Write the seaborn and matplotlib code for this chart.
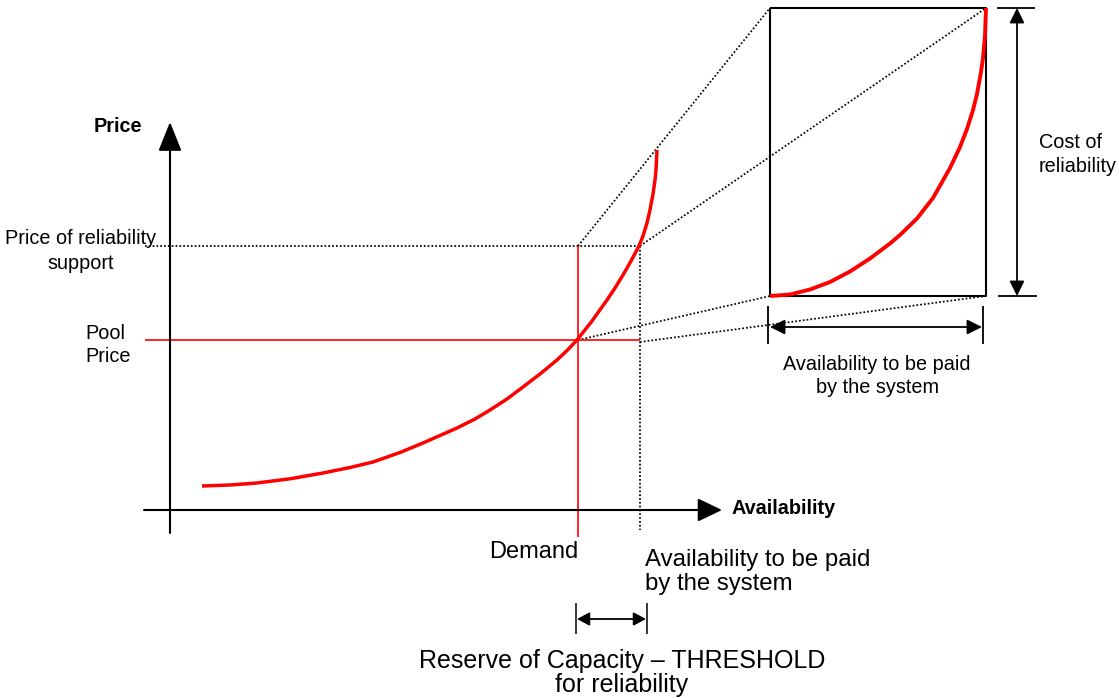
import numpy as np
import pandas as pd
import matplotlib
matplotlib.use("Agg")
import matplotlib.pyplot as plt
import seaborn as sns

# ---------------- data (diagram coordinates, y grows downward) ----------------
supply_x = [202, 230, 257, 290, 323, 350, 373, 400, 423, 440, 457, 475, 490, 507,
            523, 540, 557, 567, 577, 592, 607, 615, 623, 631, 639, 643, 647, 650,
            653, 655, 656, 657]
supply_y = [486, 485, 483, 478.8, 473, 467.5, 462, 452.5, 443, 435.5, 428, 419, 410,
            399, 387, 374, 360, 350.5, 340, 321, 300, 288, 275, 261, 246, 236, 223,
            210, 194, 180, 170, 150]

zoom_x = [770, 790, 810, 830, 850, 870, 890, 900, 917, 933, 950, 960, 967, 973,
          977, 981, 983, 985, 986]
zoom_y = [296, 294.5, 289.5, 282, 271.5, 258.5, 243.5, 235, 218.5, 198, 168, 147,
          129, 110, 94, 72, 58, 36, 8]

demand_x = 578
threshold_x = 640
pool_price = 340
reliability_price = 246

box_left, box_right, box_top, box_bottom = 770, 986, 8, 296

texts_small = ["Price of reliability", "support", "Pool", "Price",
               "Cost of", "reliability", "Availability to be paid", "by the system"]
axis_labels = ["Price", "Availability"]
texts_large = ["Demand", "Availability to be paid", "by the system",
               "Reserve of Capacity \u2013 THRESHOLD", "for reliability"]

# ---------------- figure ----------------
sns.set_theme(style="white")
plt.rcParams["font.family"] = ["Liberation Sans", "DejaVu Sans"]
plt.rcParams["text.color"] = "black"

fig = plt.figure(figsize=(11.19, 6.98), dpi=100)
ax = fig.add_axes([0, 0, 1, 1])
ax.set_xlim(0, 1119)
ax.set_ylim(698, 0)
ax.axis("off")

RED = "#ff0000"
DOT = (0, (1, 1.2))


def seg(x, y, **kw):
    sns.lineplot(x=x, y=y, estimator=None, sort=False, ax=ax, legend=False,
                 solid_joinstyle="round", solid_capstyle="butt", **kw)


# axes with arrows
ax.annotate("", xy=(170, 122), xytext=(170, 533),
            arrowprops=dict(arrowstyle="-|>,head_length=1.8,head_width=0.72",
                            mutation_scale=10, lw=1.5, color="black",
                            shrinkA=0, shrinkB=0))
ax.annotate("", xy=(722, 510), xytext=(144, 510),
            arrowprops=dict(arrowstyle="-|>,head_length=1.5,head_width=0.72",
                            mutation_scale=10, lw=1.5, color="black",
                            shrinkA=0, shrinkB=0))

# dotted guide lines
dot_kw = dict(color="black", lw=1.25, linestyle=DOT)
seg([145, threshold_x], [reliability_price, reliability_price], **dot_kw)
seg([threshold_x, threshold_x], [reliability_price, 530], **dot_kw)
seg([demand_x, box_left], [reliability_price, box_top], **dot_kw)
seg([threshold_x, box_right], [reliability_price, box_top], **dot_kw)
seg([demand_x, box_left], [pool_price, box_bottom], **dot_kw)
seg([threshold_x, box_right], [pool_price + 2, box_bottom], **dot_kw)

# red lines: pool price and demand
seg([145, threshold_x], [pool_price, pool_price], color=RED, lw=1.2)
seg([demand_x, demand_x], [reliability_price, 537], color=RED, lw=1.2)

# supply curve
seg(supply_x, supply_y, color=RED, lw=2.5)

# inset box
seg([box_left, box_right, box_right, box_left, box_left],
    [box_top, box_top, box_bottom, box_bottom, box_top], color="black", lw=1.5)
seg(zoom_x, zoom_y, color=RED, lw=2.8)

# vertical dimension arrow (cost of reliability)
seg([997, 1035], [box_top, box_top], color="black", lw=1.3)
seg([998, 1037], [box_bottom, box_bottom], color="black", lw=1.3)
ax.annotate("", xy=(1017, box_top), xytext=(1017, box_bottom),
            arrowprops=dict(arrowstyle="<|-|>,head_length=0.9,head_width=0.45",
                            mutation_scale=10, lw=1.3, color="black",
                            shrinkA=0, shrinkB=0))

# horizontal dimension arrow under inset
seg([768, 768], [306, 344], color="black", lw=1.3)
seg([983, 983], [306, 344], color="black", lw=1.3)
ax.annotate("", xy=(770, 327), xytext=(982, 327),
            arrowprops=dict(arrowstyle="<|-|>,head_length=0.9,head_width=0.45",
                            mutation_scale=10, lw=1.3, color="black",
                            shrinkA=0, shrinkB=0))

# reserve arrow
seg([576, 576], [603, 634], color="black", lw=1.1)
seg([647, 647], [603, 634], color="black", lw=1.1)
ax.annotate("", xy=(577, 619), xytext=(646, 619),
            arrowprops=dict(arrowstyle="<|-|>,head_length=0.75,head_width=0.4",
                            mutation_scale=10, lw=1.3, color="black",
                            shrinkA=0, shrinkB=0))

# ---------------- text ----------------
FS = 14.3
ax.text(118, 132, axis_labels[0], fontsize=FS, fontweight="bold", ha="center", va="baseline")
ax.text(732, 514, axis_labels[1], fontsize=FS, fontweight="bold", ha="left", va="baseline")

ax.text(81, 244, texts_small[0], fontsize=FS, ha="center", va="baseline")
ax.text(81, 269, texts_small[1], fontsize=FS, ha="center", va="baseline")
ax.text(85, 339, texts_small[2], fontsize=FS, ha="left", va="baseline")
ax.text(85, 362, texts_small[3], fontsize=FS, ha="left", va="baseline")
ax.text(1039, 148, texts_small[4], fontsize=FS, ha="left", va="baseline")
ax.text(1039, 172, texts_small[5], fontsize=FS, ha="left", va="baseline")
ax.text(877, 370, texts_small[6], fontsize=FS, ha="center", va="baseline")
ax.text(877, 393, texts_small[7], fontsize=FS, ha="center", va="baseline")

ax.text(578, 558, texts_large[0], fontsize=17, ha="right", va="baseline")
ax.text(645, 566, texts_large[1], fontsize=17.3, ha="left", va="baseline")
ax.text(645, 590, texts_large[2], fontsize=17.3, ha="left", va="baseline")
ax.text(622, 668, texts_large[3], fontsize=18, ha="center", va="baseline")
ax.text(622, 692, texts_large[4], fontsize=18, ha="center", va="baseline")

fig.savefig("out.png", dpi=100)
